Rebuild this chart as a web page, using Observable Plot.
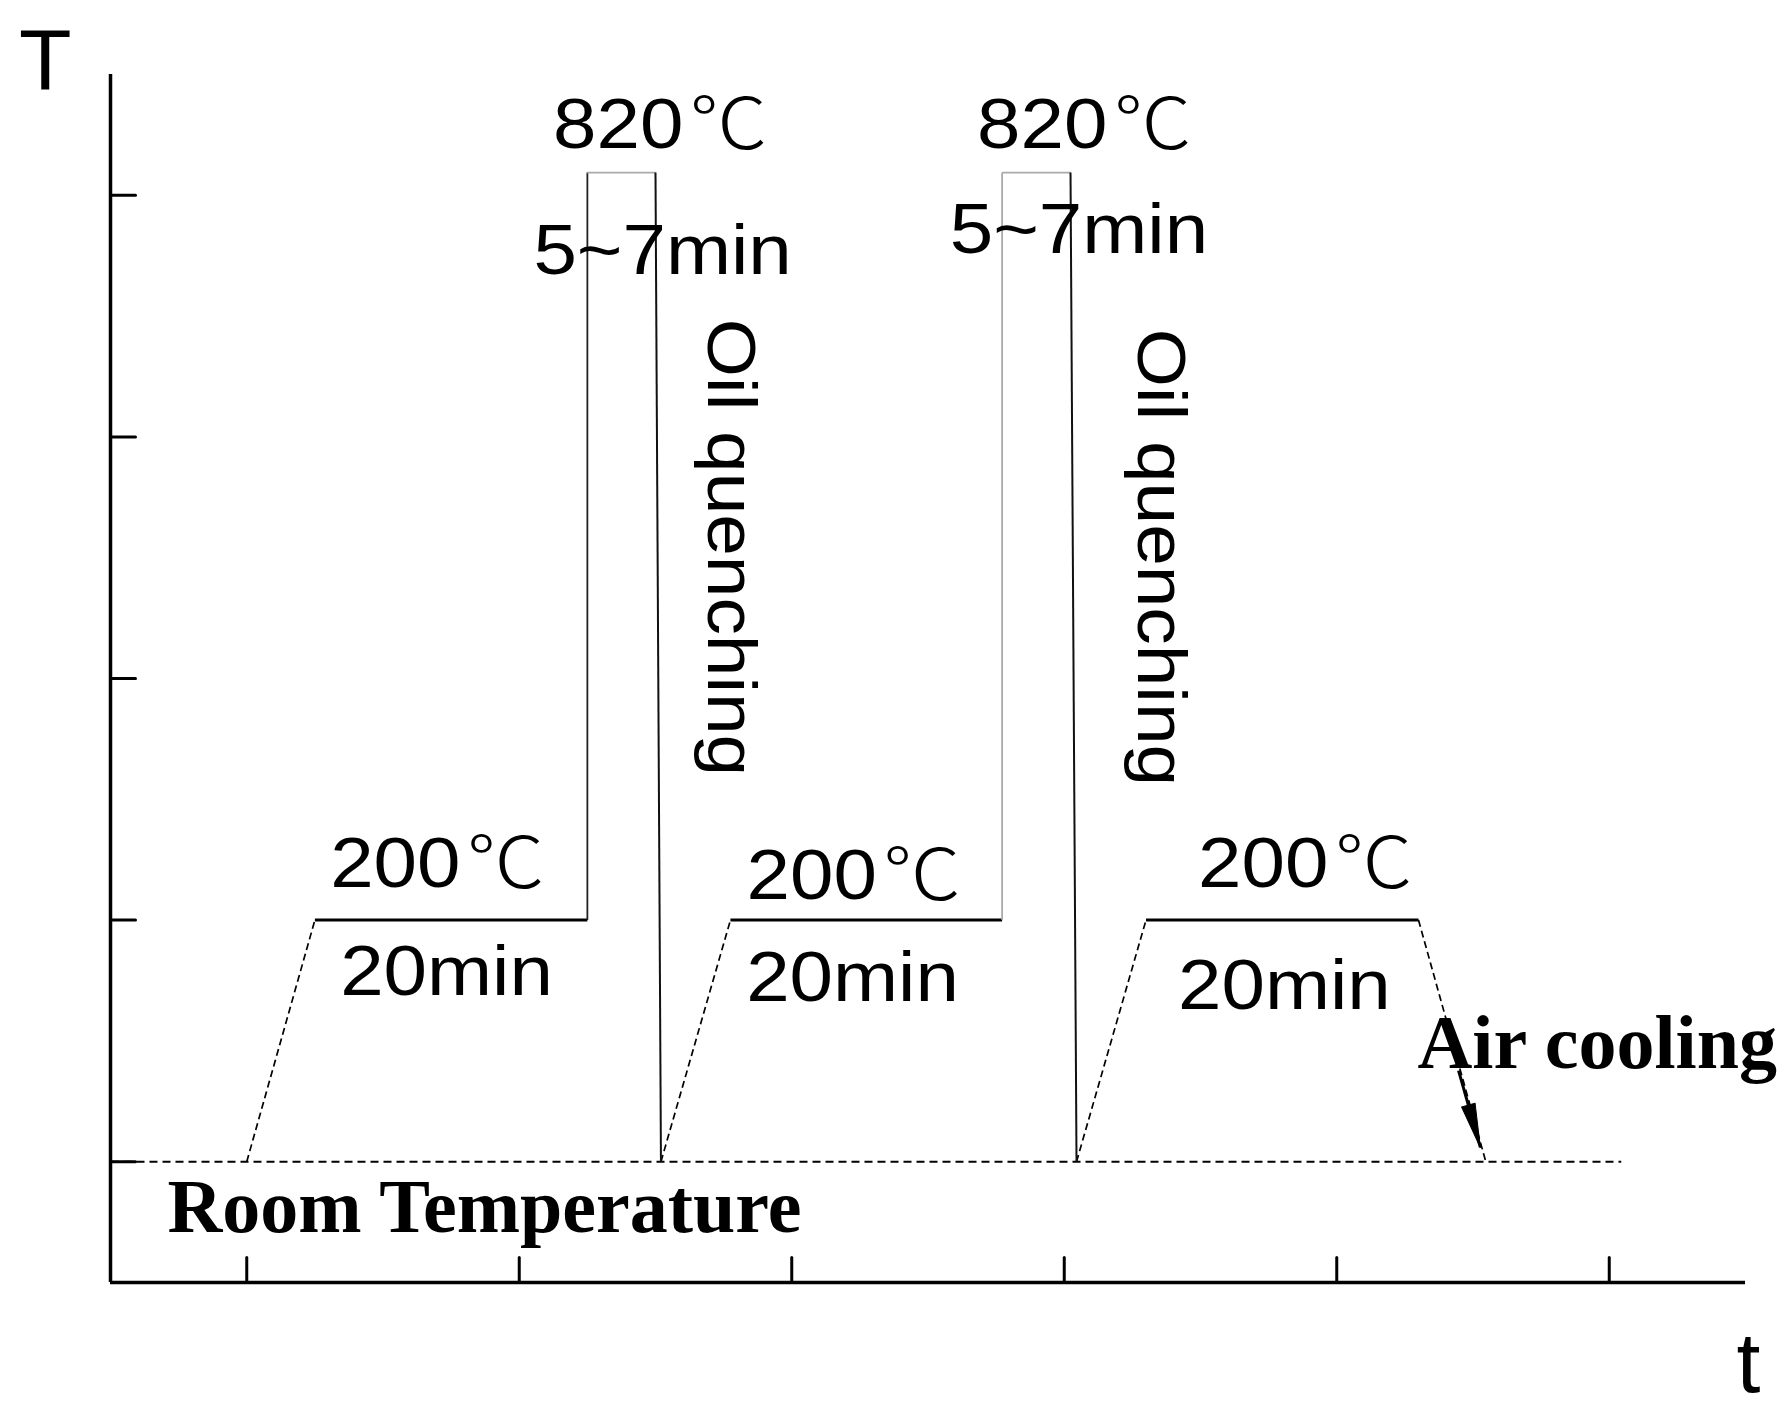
<!DOCTYPE html>
<html><head><meta charset="utf-8">
<script src="https://cdn.jsdelivr.net/npm/d3@7"></script>
<script src="https://cdn.jsdelivr.net/npm/@observablehq/plot@0.6"></script>
<style>
html,body{margin:0;padding:0;background:#fff;}
</style></head><body><div id="chart"></div>
<script>
// Axis ticks (schematic units: one time tick ≈ 20 min, temperature in tick levels)
const timeTicks = [1, 2, 3, 4, 5, 6];
const tempTicks = [1, 2, 3, 4, 5];

// Heat-treatment profile (vertices)
const profileTime = [1.0, 1.25, 2.25, 2.25, 2.50, 2.52, 2.775, 3.772, 3.772, 4.023, 4.045, 4.30, 5.30, 5.547];
const profileTemp = [1.0, 2.0, 2.0, 5.094, 5.094, 1.0, 2.0, 2.0, 5.094, 5.094, 1.0, 2.0, 2.0, 1.0];
const segmentKind = ["ramp","hold","heat","soak","quench","ramp","hold","heat","soak","quench","ramp","hold","cool"];

// Room temperature reference line
const roomTempLevel = [1.0];
const roomTempFrom = [0.5];
const roomTempTo = [6.044];

// Labels
const tempLabels = ["820℃", "820℃", "200℃", "200℃", "200℃"];
const tempLabelTime = [2.518, 4.074, 1.70, 3.228, 4.885];
const tempLabelTemp = [5.194, 5.194, 2.139, 2.089, 2.139];
const durLabels = ["5~7min", "5~7min", "20min", "20min", "20min"];
const durLabelTime = [2.526, 4.054, 1.733, 3.223, 4.808];
const durLabelTemp = [4.676, 4.763, 1.692, 1.667, 1.634];
const quenchLabels = ["Oil quenching", "Oil quenching"];
const quenchLabelTime = [2.772, 4.35];
const quenchLabelTemp = [3.542, 3.501];
const noteLabels = ["Room Temperature", "Air cooling"];
const noteLabelTime = [0.709, 5.296];
const noteLabelTemp = [0.711, 1.386];
const arrowFromTime = [5.447], arrowFromTemp = [1.377];
const arrowToTime = [5.527], arrowToTemp = [1.059];
const axisNames = ["T", "t"];
const axisNameTime = [0.261, 6.511];
const axisNameTemp = [5.442, 0.045];

// Layout
const W = 1782, H = 1415, ML = 110, MR = 37, MT = 74, MB = 133;
const xDom = [0.5, 6.5], yDom = [0.5, 5.5];
const kx = (W - ML - MR) / (xDom[1] - xDom[0]);
const ky = (H - MT - MB) / (yDom[1] - yDom[0]);

const segs = segmentKind.map((k, i) => ({k, i, x1: profileTime[i], y1: profileTemp[i], x2: profileTime[i + 1], y2: profileTemp[i + 1]}));
const ofKind = (...ks) => segs.filter(d => ks.includes(d.k));
const idx = arr => d3.range(arr.length);
const tickShape = {draw(ctx, l) { ctx.moveTo(0, 0); ctx.lineTo(0, -l); }};
const headShape = {draw(ctx, l, r) { ctx.moveTo(-r, 0); ctx.lineTo(0, -l); ctx.lineTo(r, 0); ctx.closePath(); }};
const arrowRotate = idx(arrowFromTime).map(i => {
  const dx = (arrowToTime[i] - arrowFromTime[i]) * kx;
  const dy = -(arrowToTemp[i] - arrowFromTemp[i]) * ky;
  return Math.atan2(dx, -dy) * 180 / Math.PI;
});
const SANS = "'Liberation Sans', Arial, 'Noto Sans CJK SC', sans-serif";
const SERIF = "'Liberation Serif', 'Times New Roman', serif";

const chart = Plot.plot({
  width: W, height: H,
  marginLeft: ML, marginRight: MR, marginTop: MT, marginBottom: MB,
  x: {domain: xDom, axis: null},
  y: {domain: yDom, axis: null},
  style: {background: "#fff", overflow: "visible"},
  marks: [
    // axes
    Plot.ruleX([0.5], {stroke: "#000", strokeWidth: 3.5}),
    Plot.ruleY([0.5], {stroke: "#000", strokeWidth: 3.5}),
    Plot.vector(timeTicks, {x: d => d, y: 0.5, length: 25, anchor: "start", shape: tickShape, stroke: "#000", strokeWidth: 3}),
    Plot.vector(tempTicks, {x: 0.5, y: d => d, length: 25, rotate: 90, anchor: "start", shape: tickShape, stroke: "#000", strokeWidth: 3}),
    // room temperature
    Plot.link(idx(roomTempLevel), {x1: i => roomTempFrom[i], x2: i => roomTempTo[i], y1: i => roomTempLevel[i], y2: i => roomTempLevel[i], stroke: "#000", strokeWidth: 1.9, strokeDasharray: "8,5"}),
    // profile
    Plot.link(ofKind("ramp", "cool"), {x1: "x1", y1: "y1", x2: "x2", y2: "y2", stroke: "#000", strokeWidth: 1.7, strokeDasharray: "7,4"}),
    Plot.link(ofKind("hold"), {x1: "x1", y1: "y1", x2: "x2", y2: "y2", stroke: "#000", strokeWidth: 3}),
    Plot.link(ofKind("heat"), {x1: "x1", y1: "y1", x2: "x2", y2: "y2", stroke: (d, j) => j === 0 ? "#222" : "#aaa", strokeWidth: 1.8}),
    Plot.link(ofKind("soak"), {x1: "x1", y1: "y1", x2: "x2", y2: "y2", stroke: "#aaa", strokeWidth: 1.8}),
    Plot.link(ofKind("quench"), {x1: "x1", y1: "y1", x2: "x2", y2: "y2", stroke: "#111", strokeWidth: 2}),
    // labels
    Plot.text(idx(tempLabels), {x: i => tempLabelTime[i], y: i => tempLabelTemp[i], text: i => tempLabels[i], textAnchor: "middle", lineAnchor: "bottom", fontSize: 71, fontFamily: SANS, fill: "#000", className: "wide"}),
    Plot.text(idx(durLabels), {x: i => durLabelTime[i], y: i => durLabelTemp[i], text: i => durLabels[i], textAnchor: "middle", lineAnchor: "bottom", fontSize: 71, fontFamily: SANS, fill: "#000", className: "wide"}),
    Plot.text(idx(quenchLabels), {x: i => quenchLabelTime[i], y: i => quenchLabelTemp[i], text: i => quenchLabels[i], rotate: 90, textAnchor: "middle", lineAnchor: "middle", fontSize: 68, fontFamily: SANS, fill: "#000", className: "wide"}),
    Plot.text(idx(noteLabels), {x: i => noteLabelTime[i], y: i => noteLabelTemp[i], text: i => noteLabels[i], textAnchor: "start", lineAnchor: "bottom", fontSize: 76, fontWeight: "bold", fontFamily: SERIF, fill: "#000"}),
    Plot.link(idx(arrowFromTime), {x1: i => arrowFromTime[i], y1: i => arrowFromTemp[i], x2: i => arrowToTime[i], y2: i => arrowToTemp[i], stroke: "#000", strokeWidth: 3}),
    Plot.vector(idx(arrowToTime), {x: i => arrowToTime[i], y: i => arrowToTemp[i], rotate: i => arrowRotate[i], length: 44, r: 7, anchor: "end", shape: headShape, fill: "#000", stroke: "#000", strokeWidth: 1}),
    Plot.text(idx(axisNames), {x: i => axisNameTime[i], y: i => axisNameTemp[i], text: i => axisNames[i], textAnchor: "middle", lineAnchor: "bottom", fontSize: 86, fontFamily: SANS, fill: "#000"})
  ]
});

// Widen the sans labels slightly (the original lettering is a little broader) and
// render the ℃ sign with a full-width glyph like the original.
d3.select(chart).selectAll("g.wide text").each(function () {
  const t = d3.select(this);
  const tr = t.attr("transform") || "";
  t.attr("transform", tr + " scale(1.1,1)");
  const s = this.textContent;
  if (s.includes("℃")) {
    const parts = s.split("℃");
    this.textContent = "";
    parts.forEach((p, k) => {
      if (p) t.append("tspan").text(p);
      if (k < parts.length - 1) t.append("tspan").attr("dx", "0.08em").style("font-family", "'Noto Sans CJK SC'").style("font-weight", "300").text("℃");
    });
  }
});
document.getElementById("chart").appendChild(chart);
</script>
</body></html>
